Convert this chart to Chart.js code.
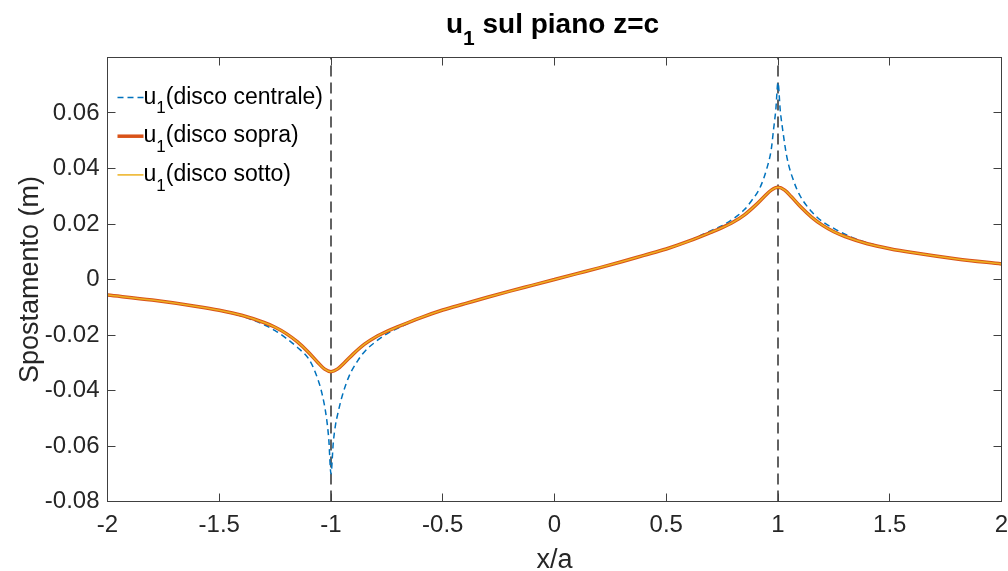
<!DOCTYPE html>
<html>
<head>
<meta charset="utf-8">
<script src="https://cdn.jsdelivr.net/npm/chart.js@4.4.0/dist/chart.umd.min.js"></script>
<style>
  html, body { margin: 0; padding: 0; background: #fff; }
  #wrap { width: 1008px; height: 571px; }
</style>
</head>
<body>
<div id="wrap"><canvas id="plot" width="1008" height="571"></canvas></div>
<script>
const FONT = "'Liberation Sans', Arial, Helvetica, sans-serif";

// spostamento u1 sul piano z=c, disco centrale (tratteggiato)
const xCentrale = [-2, -1.8, -1.6, -1.5, -1.4, -1.3, -1.25, -1.2, -1.15, -1.1, -1.07, -1.04, -1.02, -1.01, -1,
  -0.99, -0.98, -0.97, -0.95, -0.92, -0.88, -0.85, -0.8, -0.75, -0.7, -0.6, -0.5, -0.4, -0.3, -0.2, -0.1, 0,
  0.1, 0.2, 0.3, 0.4, 0.5, 0.6, 0.7, 0.75, 0.8, 0.85, 0.88, 0.92, 0.95, 0.97, 0.98, 0.99, 1,
  1.01, 1.02, 1.04, 1.07, 1.1, 1.15, 1.2, 1.25, 1.3, 1.4, 1.5, 1.6, 1.8, 2];
const uCentrale = [-0.0056, -0.0074, -0.0098, -0.0112, -0.0132, -0.0163, -0.0184, -0.0212, -0.0245, -0.0286, -0.0335, -0.0412, -0.0500, -0.0575, -0.0700,
  -0.0590, -0.0525, -0.0485, -0.0420, -0.0350, -0.0292, -0.0260, -0.0224, -0.0196, -0.0175, -0.0139, -0.0110, -0.0087, -0.0064, -0.0042, -0.0021, 0,
  0.0021, 0.0042, 0.0064, 0.0087, 0.0110, 0.0139, 0.0176, 0.0194, 0.0219, 0.0252, 0.0282, 0.0332, 0.0400, 0.0470, 0.0540, 0.0610, 0.0710,
  0.0610, 0.0545, 0.0440, 0.0355, 0.0300, 0.0245, 0.0208, 0.0184, 0.0163, 0.0132, 0.0112, 0.0098, 0.0074, 0.0056];

// dischi sopra e sotto (stessa ascissa)
const xLaterali = [-2, -1.8, -1.6, -1.5, -1.4, -1.3, -1.25, -1.2, -1.15, -1.1, -1.06, -1.03, -1,
  -0.97, -0.94, -0.9, -0.85, -0.8, -0.75, -0.7, -0.6, -0.5, -0.4, -0.3, -0.2, -0.1, 0,
  0.1, 0.2, 0.3, 0.4, 0.5, 0.6, 0.7, 0.75, 0.8, 0.85, 0.9, 0.94, 0.97, 1,
  1.03, 1.06, 1.1, 1.15, 1.2, 1.25, 1.3, 1.4, 1.5, 1.6, 1.8, 2];
const uSopra = [-0.0056, -0.0074, -0.0097, -0.0111, -0.0129, -0.0155, -0.0172, -0.0195, -0.0225, -0.0263, -0.0298, -0.0322, -0.0332,
  -0.0322, -0.0300, -0.0268, -0.0233, -0.0207, -0.0187, -0.0170, -0.0138, -0.0110, -0.0087, -0.0064, -0.0042, -0.0021, 0,
  0.0021, 0.0042, 0.0064, 0.0087, 0.0110, 0.0138, 0.0170, 0.0187, 0.0207, 0.0233, 0.0268, 0.0300, 0.0322, 0.0332,
  0.0322, 0.0298, 0.0263, 0.0225, 0.0195, 0.0172, 0.0155, 0.0129, 0.0111, 0.0097, 0.0074, 0.0056];
const uSotto = [-0.0056, -0.0074, -0.0097, -0.0111, -0.0129, -0.0155, -0.0172, -0.0195, -0.0225, -0.0263, -0.0298, -0.0322, -0.0332,
  -0.0322, -0.0300, -0.0268, -0.0233, -0.0207, -0.0187, -0.0170, -0.0138, -0.0110, -0.0087, -0.0064, -0.0042, -0.0021, 0,
  0.0021, 0.0042, 0.0064, 0.0087, 0.0110, 0.0138, 0.0170, 0.0187, 0.0207, 0.0233, 0.0268, 0.0300, 0.0322, 0.0332,
  0.0322, 0.0298, 0.0263, 0.0225, 0.0195, 0.0172, 0.0155, 0.0129, 0.0111, 0.0097, 0.0074, 0.0056];

// bordi dei dischi (x/a = -1 e 1)
const bordiDisco = [-1, 1];

const xRange = [-2, 2];
const yRange = [-0.08, 0.08];

const toPoints = (xs, ys) => xs.map((x, i) => ({ x: x, y: ys[i] }));

const verticali = bordiDisco.map(b => ({
  data: [{ x: b, y: yRange[0] }, { x: b, y: yRange[1] }],
  borderColor: '#626262',
  borderWidth: 2,
  borderDash: [11, 6],
  pointRadius: 0,
  order: 4
}));

// scrive testo con pedici tipo TeX (u_1)
function texParts(str) {
  const parts = [];
  const re = /_(\{[^}]*\}|.)/g;
  let last = 0, m;
  while ((m = re.exec(str))) {
    if (m.index > last) parts.push({ t: str.slice(last, m.index) });
    parts.push({ t: m[1].replace(/[{}]/g, ''), sub: true });
    last = re.lastIndex;
  }
  if (last < str.length) parts.push({ t: str.slice(last) });
  return parts;
}

function drawTex(ctx, str, x, y, size, weight, align) {
  const parts = texParts(str);
  const fontFor = p => `${weight} ${p.sub ? Math.round(size * 0.74) : size}px ${FONT}`;
  let total = 0;
  parts.forEach(p => { ctx.font = fontFor(p); p.w = ctx.measureText(p.t).width; total += p.w; });
  let cx = align === 'center' ? x - total / 2 : x;
  ctx.textAlign = 'left';
  ctx.textBaseline = 'alphabetic';
  parts.forEach(p => {
    ctx.font = fontFor(p);
    ctx.fillText(p.t, cx, p.sub ? y + size * 0.42 : y);
    cx += p.w;
  });
}

const titolo = 'u_1 sul piano z=c';

// titolo, legenda, riquadro e tacche interne stile MATLAB
const matlabAxes = {
  id: 'matlabAxes',
  afterDraw(chart) {
    const { ctx, chartArea: a, scales } = chart;
    ctx.save();

    ctx.fillStyle = '#000';
    drawTex(ctx, titolo, (a.left + a.right) / 2 - 2, 33, 28, 'bold', 'center');

    // legenda senza bordo in alto a sinistra
    let row = 0;
    chart.data.datasets.forEach(ds => {
      if (!ds.label) return;
      const ly = a.top + 40 + row * 38.7;
      ctx.save();
      ctx.strokeStyle = ds.borderColor;
      ctx.lineWidth = ds.borderWidth;
      ctx.setLineDash(ds.borderDash || []);
      ctx.beginPath();
      ctx.moveTo(a.left + 10, ly);
      ctx.lineTo(a.left + 36, ly);
      ctx.stroke();
      ctx.restore();
      ctx.fillStyle = '#000';
      drawTex(ctx, ds.label, a.left + 36, ly + 6, 23, 'normal', 'left');
      row++;
    });

    ctx.strokeStyle = '#404040';
    ctx.lineWidth = 1;
    ctx.setLineDash([]);
    const snap = v => Math.round(v - 0.5) + 0.5;
    const tl = 8;
    ctx.beginPath();
    scales.x.ticks.forEach(t => {
      const px = snap(scales.x.getPixelForValue(t.value));
      ctx.moveTo(px, a.bottom); ctx.lineTo(px, a.bottom - tl);
      ctx.moveTo(px, a.top); ctx.lineTo(px, a.top + tl);
    });
    scales.y.ticks.forEach(t => {
      const py = snap(scales.y.getPixelForValue(t.value));
      ctx.moveTo(a.left, py); ctx.lineTo(a.left + tl, py);
      ctx.moveTo(a.right, py); ctx.lineTo(a.right - tl, py);
    });
    ctx.stroke();
    ctx.strokeRect(a.left, a.top, a.right - a.left, a.bottom - a.top);
    ctx.restore();
  }
};

new Chart(document.getElementById('plot'), {
  type: 'line',
  data: {
    datasets: [
      {
        label: 'u_1(disco centrale)',
        data: toPoints(xCentrale, uCentrale),
        borderColor: '#0072BD',
        borderWidth: 1.5,
        borderDash: [6, 4],
        pointRadius: 0,
        cubicInterpolationMode: 'monotone',
        order: 3
      },
      {
        label: 'u_1(disco sopra)',
        data: toPoints(xLaterali, uSopra),
        borderColor: '#D95319',
        borderWidth: 3.5,
        pointRadius: 0,
        cubicInterpolationMode: 'monotone',
        order: 2
      },
      {
        label: 'u_1(disco sotto)',
        data: toPoints(xLaterali, uSotto),
        borderColor: '#EDB120',
        borderWidth: 1.5,
        pointRadius: 0,
        cubicInterpolationMode: 'monotone',
        order: 1
      },
      ...verticali
    ]
  },
  options: {
    responsive: false,
    devicePixelRatio: 1,
    animation: false,
    layout: { padding: { top: 57.5, right: 6.5, left: 0, bottom: 0 } },
    plugins: {
      legend: { display: false },
      tooltip: { enabled: false }
    },
    scales: {
      x: {
        type: 'linear',
        min: xRange[0],
        max: xRange[1],
        grid: { display: false, drawTicks: false },
        border: { display: false },
        ticks: {
          stepSize: 0.5,
          color: '#262626',
          font: { family: FONT, size: 24 },
          padding: 9,
          maxRotation: 0,
          callback: v => String(Math.round(v * 10) / 10)
        },
        title: {
          display: true,
          text: 'x/a',
          color: '#262626',
          font: { family: FONT, size: 27, lineHeight: 0.75 },
          padding: { top: 0, bottom: 0 }
        },
        afterFit: s => { s.height = 69.5; s.paddingLeft = 0; s.paddingRight = 0; }
      },
      y: {
        type: 'linear',
        min: yRange[0],
        max: yRange[1],
        grid: { display: false, drawTicks: false },
        border: { display: false },
        afterBuildTicks: s => { s.ticks = s.ticks.filter(t => t.value < 0.079); },
        ticks: {
          stepSize: 0.02,
          color: '#262626',
          font: { family: FONT, size: 24 },
          padding: 8,
          callback: v => String(Math.round(v * 100) / 100)
        },
        title: {
          display: true,
          text: 'Spostamento (m)',
          color: '#262626',
          font: { family: FONT, size: 27, lineHeight: 1 },
          padding: { top: 17, bottom: 0 }
        },
        afterFit: s => { s.width = 107.5; s.paddingTop = 0; s.paddingBottom = 0; }
      }
    }
  },
  plugins: [matlabAxes]
});
</script>
</body>
</html>
